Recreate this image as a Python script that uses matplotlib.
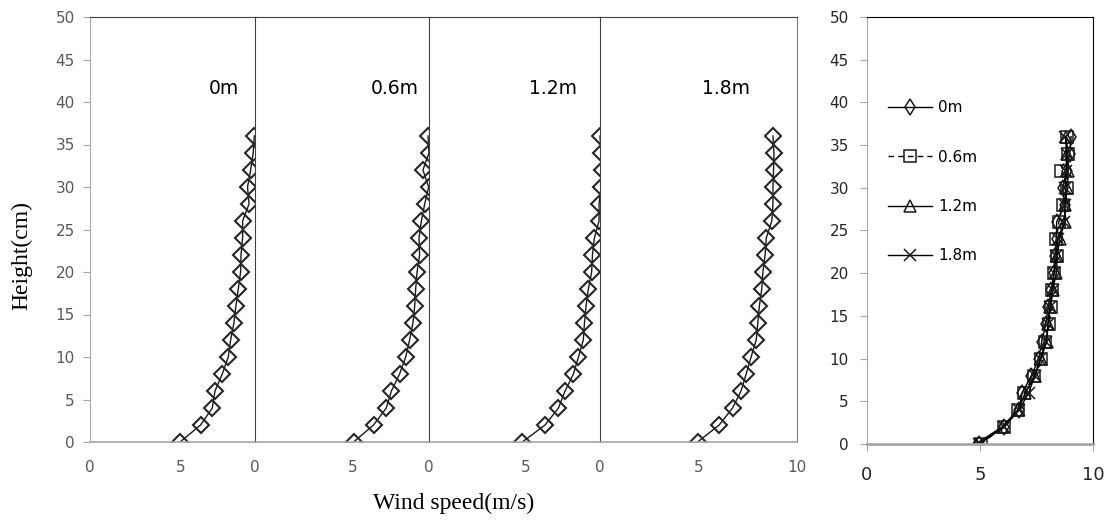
import matplotlib.pyplot as plt
import numpy as np

# heights of the measuring points (cm)
height = [0, 2, 4, 6, 8, 10, 12, 14, 16, 18, 20, 22, 24, 26, 28, 30, 32, 34, 36]

# wind speed (m/s) at each height, one list per distance
u_0m = [4.95, 6.08, 6.72, 6.87, 7.27, 7.60, 7.73, 7.91, 8.02, 8.15,
        8.28, 8.30, 8.39, 8.39, 8.74, 8.66, 8.83, 8.97, 9.03]
u_06m = [5.03, 6.05, 6.70, 6.96, 7.38, 7.69, 7.89, 8.06, 8.15, 8.20,
         8.27, 8.40, 8.37, 8.49, 8.66, 8.86, 8.57, 8.88, 8.83]
u_12m = [4.81, 5.98, 6.67, 7.01, 7.44, 7.70, 7.95, 8.01, 8.09, 8.21,
         8.38, 8.42, 8.52, 8.76, 8.76, 8.87, 8.90, 8.87, 8.81]
u_18m = [4.95, 6.05, 6.73, 7.16, 7.42, 7.67, 7.93, 8.01, 8.09, 8.21,
         8.27, 8.38, 8.44, 8.72, 8.78, 8.78, 8.81, 8.83, 8.78]

names = ['0m', '0.6m', '1.2m', '1.8m']
speeds = [u_0m, u_06m, u_12m, u_18m]

W, H = 1110, 520
fig = plt.figure(figsize=(W / 100, H / 100), dpi=100)

grey = '#a6a6a6'
dark = '#404040'
txt = '#595959'

# ---- left part: four profiles side by side ----
edges = [90, 255, 429, 600, 797]
xmax = [9.07, 8.88, 8.81, 10.0]
lab_x = [7.36, 7.14, 6.39, 6.38]
y0, y1 = 442, 17

for i in range(4):
    ax = fig.add_axes([edges[i] / W, (H - y0) / H,
                       (edges[i + 1] - edges[i]) / W, (y0 - y1) / H])
    ax.plot(speeds[i], height, color='#1a1a1a', lw=1, marker='D', ms=8,
            mfc='none', mec='#262626', mew=1.5)
    ax.set_xlim(0, xmax[i])
    ax.set_ylim(0, 50)
    ax.text(lab_x[i], 41.6, names[i], ha='center', va='center', fontsize=13.5)

    ax.spines['top'].set_color(dark)
    ax.spines['bottom'].set_color(grey)
    ax.spines['bottom'].set_linewidth(1.2)
    if i == 0:
        ax.spines['left'].set_color(grey)
        ax.set_yticks(np.arange(0, 51, 5))
        ax.tick_params(axis='y', direction='out', length=5, color=grey,
                       labelcolor=txt, labelsize=11, pad=6)
    else:
        ax.spines['left'].set_color(dark)
        ax.tick_params(axis='y', left=False, labelleft=False)
    if i == 3:
        ax.spines['right'].set_color('#7f7f7f')
        ax.set_xticks([0, 5, 10])
        ax.set_xticklabels(['0', '5', '10'])
        ax.set_xticks([0, 10], minor=True)
    else:
        ax.spines['right'].set_visible(False)
        ax.set_xticks([0, 5])
        ax.set_xticklabels(['0', '5'])
        ax.set_xticks([0], minor=True)
    ax.tick_params(axis='x', which='major', length=0, labelcolor=txt,
                   labelsize=11, pad=13)
    ax.tick_params(axis='x', which='minor', length=6, color=grey, direction='out')

fig.text(22 / W, 1 - 256 / H, 'Height(cm)', rotation=90, ha='center',
         va='center', fontsize=17, family='Liberation Serif')
fig.text(454 / W, 1 - 503 / H, 'Wind speed(m/s)', ha='center', va='center',
         fontsize=17, family='Liberation Serif')

# ---- right part: all profiles together ----
ax2 = fig.add_axes([867 / W, (H - 444) / H, 226 / W, (444 - 17) / H])
markers = ['d', 's', '^', 'x']
styles = ['-', (0, (4, 3)), '-', '-']
for u, name, mk, ls in zip(speeds, names, markers, styles):
    ax2.plot(u, height, color='black', lw=1, linestyle=ls, marker=mk, ms=8,
             mfc='none', mec='#1a1a1a', mew=1.1, label=name)
ax2.set_xlim(0, 10)
ax2.set_ylim(0, 50)
ax2.set_xticks([0, 5, 10])
ax2.set_yticks(np.arange(0, 51, 5))
ax2.spines['left'].set_color(grey)
ax2.spines['bottom'].set_color(grey)
ax2.spines['bottom'].set_linewidth(2)
ax2.spines['top'].set_color('black')
ax2.spines['right'].set_color('black')
ax2.tick_params(axis='y', direction='out', length=5, color=grey,
                labelcolor='#262626', labelsize=11, pad=8)
ax2.tick_params(axis='x', direction='out', length=5, color=grey,
                labelcolor='#262626', labelsize=13, pad=11)
leg = ax2.legend(loc='upper left', bbox_to_anchor=(0.093, 0.805), frameon=False,
                 fontsize=11, handlelength=2.9, handletextpad=0.4,
                 labelspacing=2.25, borderpad=0, borderaxespad=0)

fig.savefig('out.png', dpi=100)
